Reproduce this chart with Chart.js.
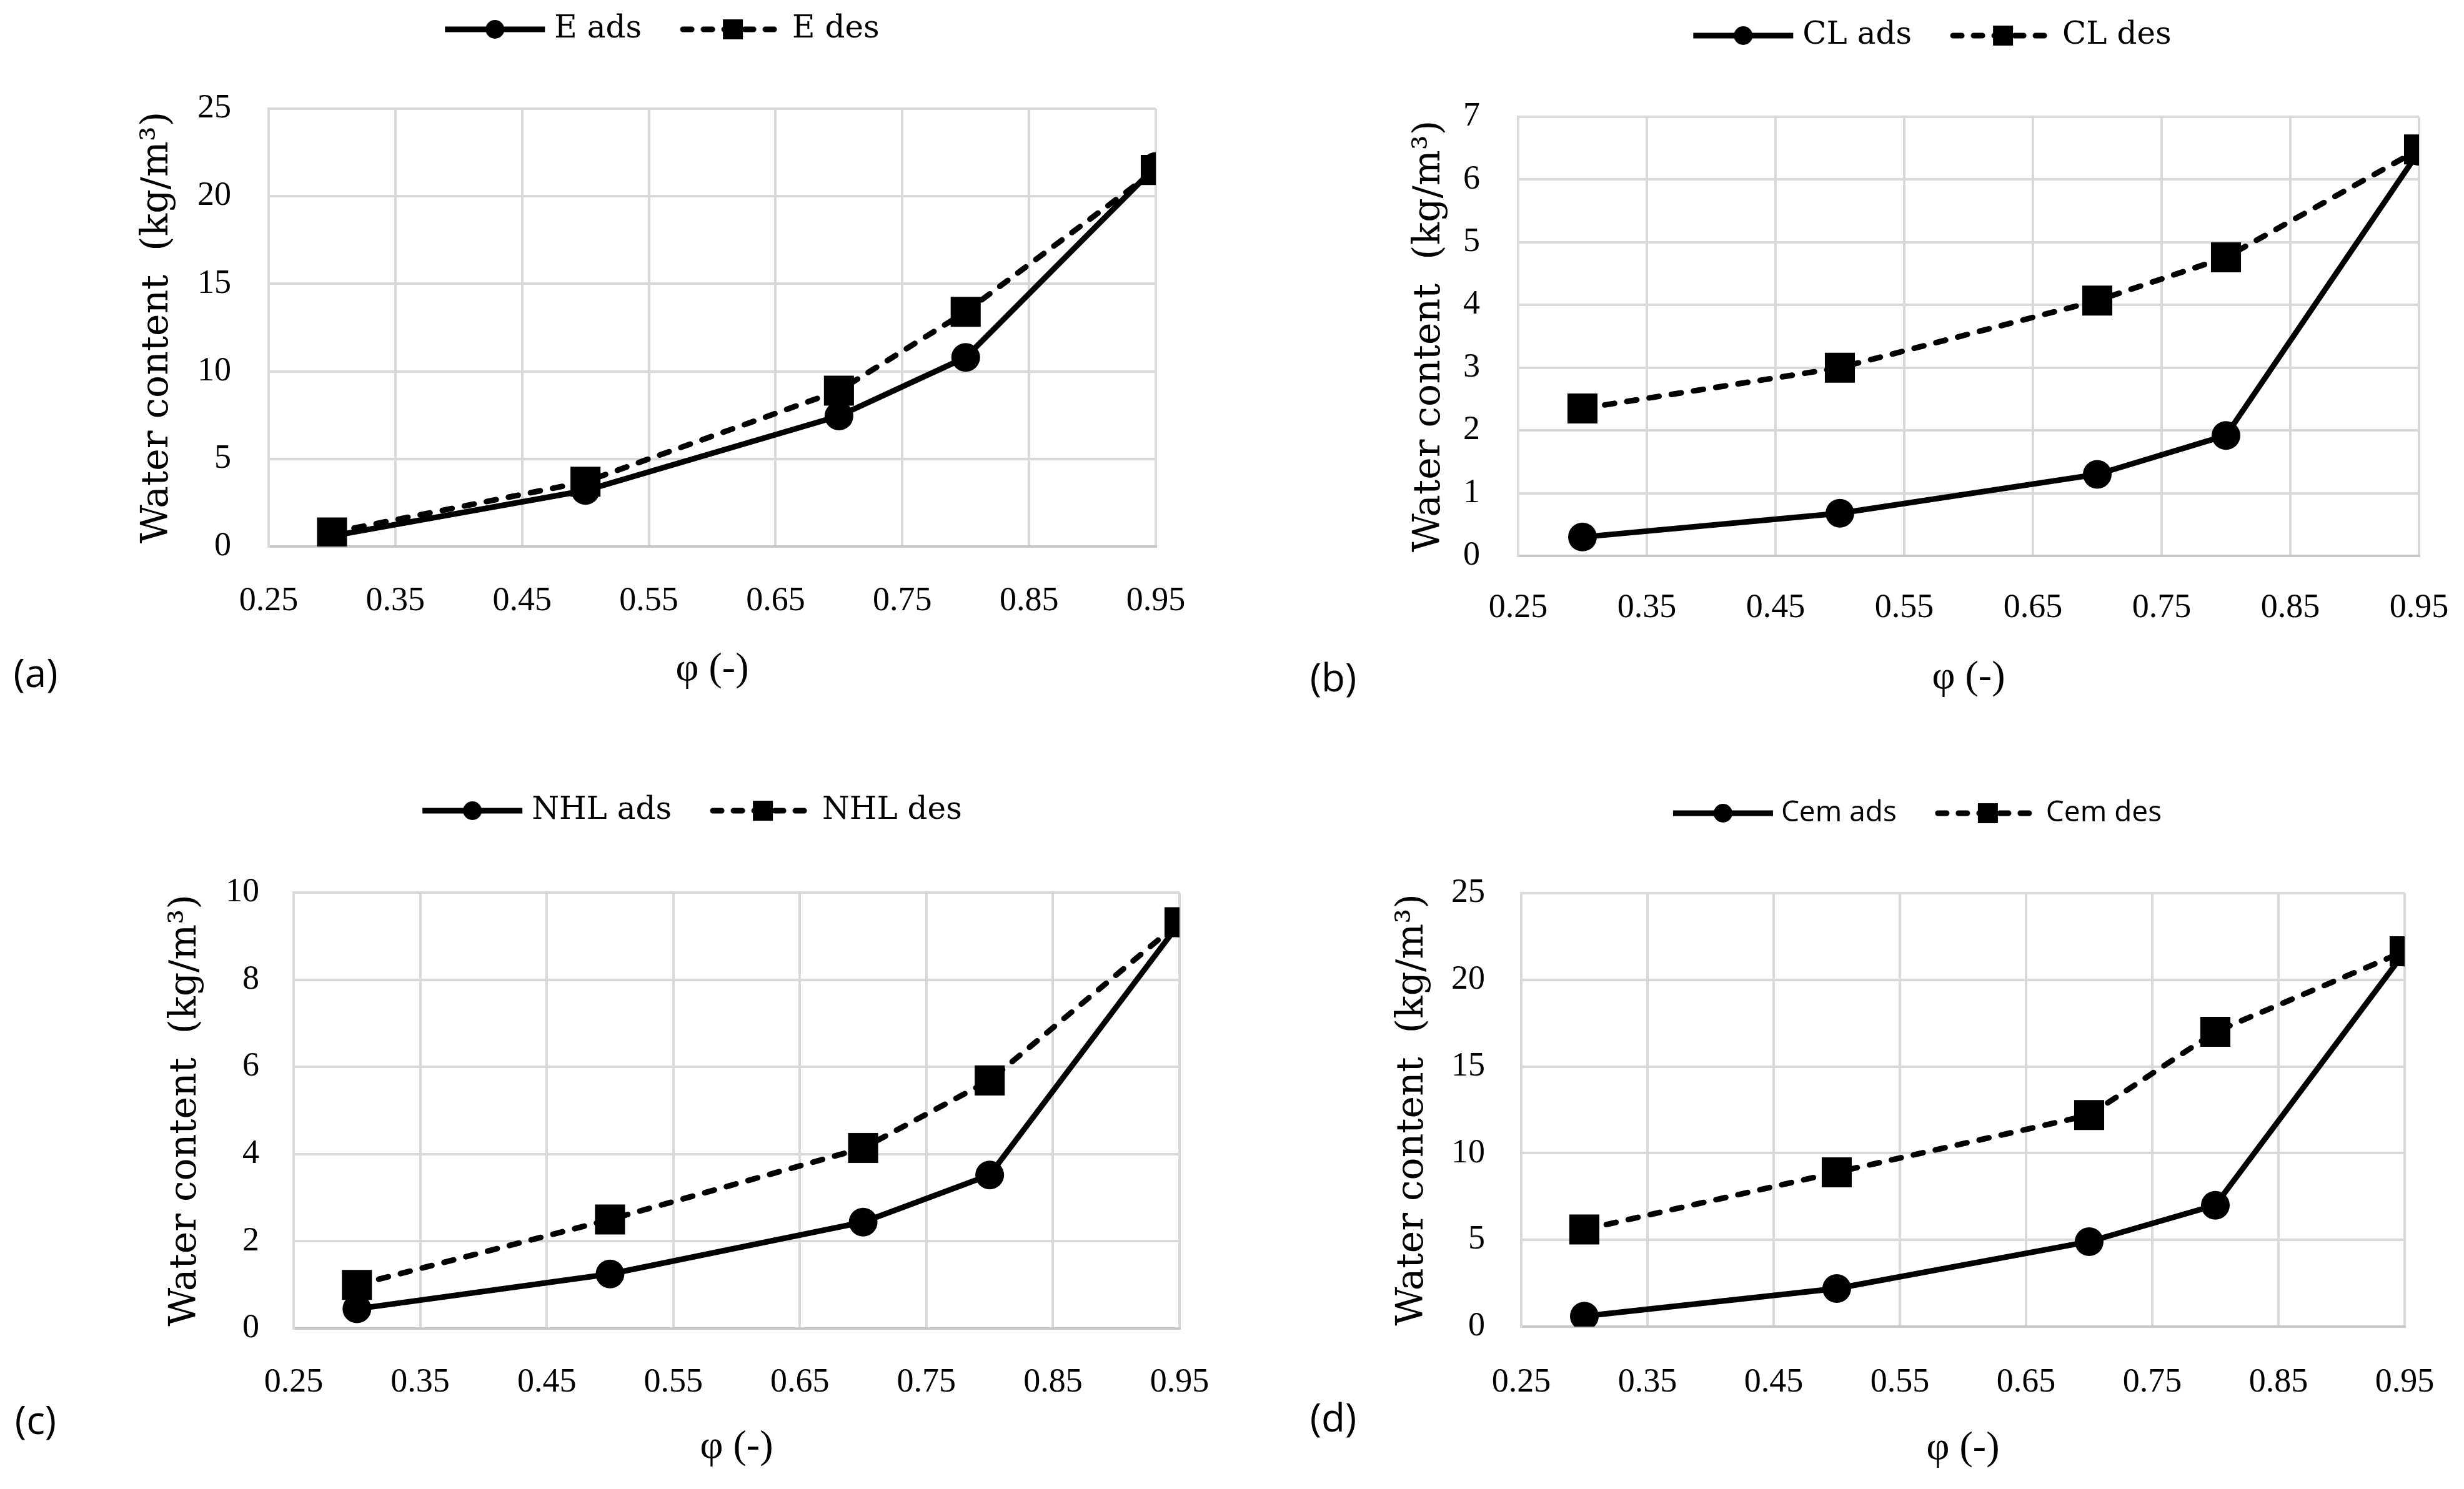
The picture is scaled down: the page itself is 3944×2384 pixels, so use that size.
<!DOCTYPE html>
<html>
<head>
<meta charset="utf-8">
<script src="https://cdn.jsdelivr.net/npm/chart.js@4.4.1/dist/chart.umd.min.js"></script>
<style>
  body { margin: 0; background: #fff; width: 3944px; height: 2384px; position: relative; overflow: hidden; }
  .panel { position: absolute; width: 1972px; height: 1192px; }
  .tag { position: absolute; font-family: "Open Sans"; font-size: 62px; color: #000; transform: translate(-50%, -50%); }
</style>
</head>
<body>
<div class="panel" style="left:0;top:0"><canvas id="chartA" width="1972" height="1192"></canvas></div>
<div class="panel" style="left:1972px;top:0"><canvas id="chartB" width="1972" height="1192"></canvas></div>
<div class="panel" style="left:0;top:1192px"><canvas id="chartC" width="1972" height="1192"></canvas></div>
<div class="panel" style="left:1972px;top:1192px"><canvas id="chartD" width="1972" height="1192"></canvas></div>
<div class="tag" style="left:57px;top:1076px">(a)</div>
<div class="tag" style="left:2134px;top:1083px">(b)</div>
<div class="tag" style="left:57px;top:2272px">(c)</div>
<div class="tag" style="left:2134px;top:2268px">(d)</div>
<script>
// relative humidity of the measurement points
const phi = [0.3, 0.5, 0.7, 0.8, 0.95];
const phiTicks = [0.25, 0.35, 0.45, 0.55, 0.65, 0.75, 0.85, 0.95];

// water content, kg/m3
const eAds = [0.6, 3.2, 7.45, 10.8, 21.7];
const eDes = [0.8, 3.7, 8.9, 13.4, 21.5];
const clAds = [0.3, 0.68, 1.3, 1.92, 6.45];
const clDes = [2.35, 3.0, 4.07, 4.76, 6.48];
const nhlAds = [0.45, 1.25, 2.44, 3.52, 9.3];
const nhlDes = [1.0, 2.5, 4.14, 5.69, 9.32];
const cemAds = [0.6, 2.2, 4.9, 7.0, 21.6];
const cemDes = [5.6, 8.9, 12.2, 17.0, 21.65];

const W = 1972, H = 1192;

// legend icon: line with marker in the middle
function makeIcon(dashed, square) {
  const c = document.createElement("canvas");
  c.width = 170; c.height = 40;
  const ctx = c.getContext("2d");
  ctx.strokeStyle = "#000";
  ctx.lineWidth = 9;
  if (dashed) { ctx.setLineDash([14, 19]); ctx.lineCap = "round"; }
  ctx.beginPath(); ctx.moveTo(5, 20); ctx.lineTo(165, 20); ctx.stroke();
  ctx.fillStyle = "#000";
  if (square) {
    ctx.fillRect(69, 4, 32, 32);
  } else {
    ctx.beginPath(); ctx.arc(85, 20, 15, 0, Math.PI * 2); ctx.fill();
  }
  return c;
}
const iconAds = makeIcon(false, false);
const iconDes = makeIcon(true, true);

// move the legend row to where it sits in the figure
const legendPlace = {
  id: "legendPlace",
  afterLayout(chart, args, opts) {
    const lg = chart.legend;
    lg.left = opts.x - 900; lg.right = opts.x + 900; lg.width = 1800;
    lg.top = opts.y - opts.pad - opts.size / 2;
    lg.bottom = lg.top + lg.height;
  }
};

function makeChart(id, names, ads, des, yMax, yStep, b, sans) {
  const legendFont = sans ? { family: "Open Sans", size: 46 } : { family: "DejaVu Serif", size: 50 };
  const legendPad = 76;
  const tickFont = { family: "Liberation Serif", size: 54 };
  return new Chart(document.getElementById(id), {
    type: "line",
    data: {
      datasets: [
        {
          label: names[0],
          data: phi.map((x, i) => ({ x: x, y: ads[i] })),
          borderColor: "#000", backgroundColor: "#000", borderWidth: 9,
          pointStyle: "circle", pointRadius: 23, pointBorderWidth: 0, pointBackgroundColor: "#000",
          tension: 0, order: 1, icon: iconAds
        },
        {
          label: names[1],
          data: phi.map((x, i) => ({ x: x, y: des[i] })),
          borderColor: "#000", backgroundColor: "#000", borderWidth: 9,
          borderDash: [16, 20], borderCapStyle: "round",
          pointStyle: "rect", pointRadius: 34, pointBorderWidth: 0, pointBackgroundColor: "#000",
          tension: 0, order: 0, icon: iconDes
        }
      ]
    },
    options: {
      responsive: false,
      animation: false,
      devicePixelRatio: 1,
      layout: {
        padding: { left: 0, right: W - b.right, top: b.top - (legendFont.size + legendPad + 10), bottom: 0 }
      },
      plugins: {
        legend: {
          position: "top",
          labels: {
            usePointStyle: true,
            pointStyleWidth: 140,
            padding: legendPad,
            font: legendFont,
            color: sans ? "#595959" : "#000",
            generateLabels: chart => chart.data.datasets.map((ds, i) => ({
              text: ds.label, pointStyle: ds.icon, fillStyle: "#000", strokeStyle: "#000",
              lineWidth: 0, hidden: false, datasetIndex: i
            }))
          }
        },
        tooltip: { enabled: false },
        legendPlace: { x: b.legendX, y: b.legendY, pad: legendPad, size: legendFont.size }
      },
      scales: {
        x: {
          type: "linear", min: 0.25, max: 0.95,
          afterBuildTicks: s => { s.ticks = phiTicks.map(v => ({ value: v })); },
          afterFit: s => { s.height = H - b.bottom; s.paddingLeft = 0; s.paddingRight = 0; },
          grid: { color: "#d9d9d9", lineWidth: 4, drawTicks: false },
          border: { color: "#c8c8c8", width: 4 },
          ticks: { padding: b.xTickY - b.bottom - 32, font: tickFont, color: "#000", callback: v => v.toFixed(2) },
          title: {
            display: true, text: "φ (-)", color: "#000",
            font: { family: "Liberation Serif", size: 64 },
            padding: { top: 0, bottom: H - b.xTitleY - 38 }
          }
        },
        y: {
          min: 0, max: yMax,
          afterFit: s => { s.width = b.left; },
          grid: { color: "#d9d9d9", lineWidth: 4, drawTicks: false },
          border: { color: "#d9d9d9", width: 4 },
          ticks: { stepSize: yStep, padding: b.left - b.yTickRight, font: tickFont, color: "#000" },
          title: {
            display: true, text: "Water content  (kg/m³)", color: "#000",
            font: { family: "DejaVu Serif", size: 60 },
            padding: { top: b.yTitleX - 36, bottom: 0 }
          }
        }
      }
    },
    plugins: [legendPlace]
  });
}

makeChart("chartA", ["E ads", "E des"], eAds, eDes, 25, 5,
  { left: 430, right: 1850, top: 174, bottom: 875, legendX: 1065, legendY: 47, yTitleX: 252, yTickRight: 370, xTickY: 962, xTitleY: 1073 });
makeChart("chartB", ["CL ads", "CL des"], clAds, clDes, 7, 1,
  { left: 458, right: 1900, top: 187, bottom: 890, legendX: 1126, legendY: 57, yTitleX: 316, yTickRight: 397, xTickY: 973, xTitleY: 1086 });
makeChart("chartC", ["NHL ads", "NHL des"], nhlAds, nhlDes, 10, 2,
  { left: 470, right: 1888, top: 237, bottom: 935, legendX: 1113, legendY: 106, yTitleX: 297, yTickRight: 415, xTickY: 1021, xTitleY: 1126 });
makeChart("chartD", ["Cem ads", "Cem des"], cemAds, cemDes, 25, 5,
  { left: 463, right: 1877, top: 238, bottom: 932, legendX: 1102, legendY: 110, yTitleX: 289, yTickRight: 405, xTickY: 1021, xTitleY: 1128 }, true);
</script>
</body>
</html>
